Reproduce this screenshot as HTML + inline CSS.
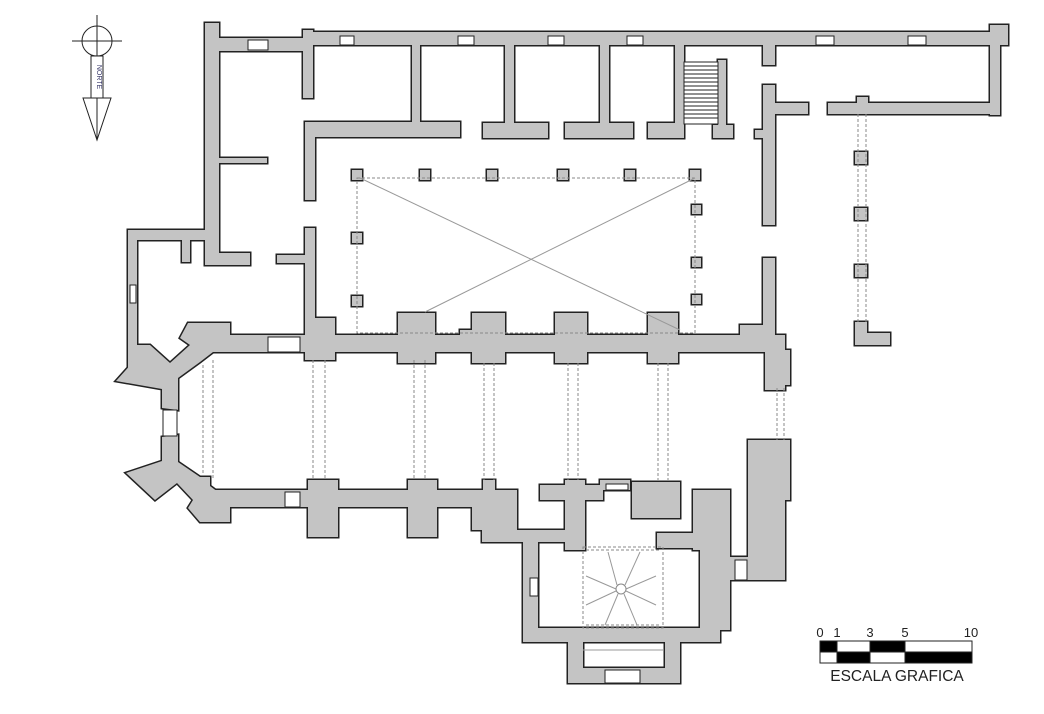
<!DOCTYPE html>
<html><head><meta charset="utf-8"><style>
html,body{margin:0;padding:0;background:#fff;}
svg{display:block;}
</style></head><body>
<svg width="1044" height="714" viewBox="0 0 1044 714" xmlns="http://www.w3.org/2000/svg">
<defs>
<g id="walls">
<rect x="205" y="23" width="14" height="242"/>
<rect x="205" y="253" width="45" height="12"/>
<rect x="128" y="230" width="80" height="10"/>
<rect x="128" y="230" width="9" height="140"/>
<rect x="182" y="236" width="8" height="26"/>
<rect x="218" y="38" width="90" height="13"/>
<rect x="303" y="32" width="705" height="13"/>
<rect x="990" y="25" width="18" height="20"/>
<rect x="990" y="30" width="10" height="85"/>
<rect x="303" y="30" width="10" height="68"/>
<rect x="305" y="122" width="155" height="15"/>
<rect x="305" y="122" width="10" height="78"/>
<rect x="218" y="158" width="49" height="5"/>
<rect x="412" y="45" width="8" height="80"/>
<rect x="505" y="45" width="9" height="80"/>
<rect x="600" y="45" width="9" height="80"/>
<rect x="675" y="45" width="9" height="80"/>
<rect x="483" y="123" width="65" height="15"/>
<rect x="565" y="123" width="68" height="15"/>
<rect x="648" y="123" width="36" height="15"/>
<rect x="718" y="60" width="8" height="78"/>
<rect x="713" y="125" width="20" height="13"/>
<rect x="763" y="45" width="12" height="20"/>
<rect x="763" y="85" width="12" height="140"/>
<rect x="755" y="130" width="10" height="8"/>
<rect x="775" y="103" width="33" height="11"/>
<rect x="828" y="103" width="172" height="11"/>
<rect x="857" y="97" width="11" height="8"/>
<rect x="763" y="258" width="12" height="90"/>
<rect x="740" y="325" width="35" height="23"/>
<rect x="855" y="152" width="12" height="12"/>
<rect x="855" y="208" width="12" height="12"/>
<rect x="855" y="265" width="12" height="12"/>
<rect x="855" y="322" width="12" height="23"/>
<rect x="855" y="333" width="35" height="12"/>
<rect x="305" y="228" width="10" height="130"/>
<rect x="277" y="255" width="30" height="8"/>
<rect x="352" y="170" width="10" height="10"/>
<rect x="420" y="170" width="10" height="10"/>
<rect x="487" y="170" width="10" height="10"/>
<rect x="558" y="170" width="10" height="10"/>
<rect x="625" y="170" width="10" height="10"/>
<rect x="690" y="170" width="10" height="10"/>
<rect x="352" y="233" width="10" height="10"/>
<rect x="352" y="296" width="10" height="10"/>
<rect x="692" y="205" width="9" height="9"/>
<rect x="692" y="258" width="9" height="9"/>
<rect x="692" y="295" width="9" height="9"/>
<rect x="213" y="335" width="562" height="17"/>
<rect x="305" y="318" width="30" height="42"/>
<rect x="398" y="313" width="37" height="50"/>
<rect x="460" y="330" width="45" height="22"/>
<rect x="472" y="313" width="33" height="50"/>
<rect x="555" y="313" width="32" height="50"/>
<rect x="648" y="313" width="30" height="50"/>
<rect x="765" y="335" width="20" height="55"/>
<rect x="775" y="350" width="15" height="35"/>
<polygon points="128,345 150,345 170,363 190,345 180,338 188,323 230,323 230,337 265,337 275,352 213,352 200,362 178,378 178,410 162,408 162,389 116,381 133,362 128,360"/>
<polygon points="162,437 178,435 178,462 200,477 210,477 210,486 218,492 285,492 285,507 230,507 230,522 200,522 188,508 193,500 177,483 155,500 126,473 162,461"/>
<rect x="210" y="490" width="285" height="17"/>
<rect x="308" y="480" width="30" height="57"/>
<rect x="408" y="480" width="29" height="57"/>
<polygon points="437,490 470,495 485,505 485,490 437,490"/>
<rect x="472" y="490" width="45" height="40"/>
<rect x="483" y="480" width="12" height="12"/>
<rect x="482" y="500" width="20" height="42"/>
<rect x="482" y="530" width="90" height="12"/>
<rect x="540" y="485" width="63" height="15"/>
<rect x="565" y="480" width="20" height="70"/>
<rect x="632" y="482" width="48" height="36"/>
<rect x="600" y="480" width="30" height="10"/>
<rect x="523" y="542" width="15" height="100"/>
<rect x="523" y="628" width="197" height="14"/>
<rect x="700" y="547" width="20" height="95"/>
<rect x="657" y="533" width="45" height="15"/>
<rect x="568" y="628" width="15" height="55"/>
<rect x="665" y="628" width="15" height="55"/>
<rect x="568" y="668" width="112" height="15"/>
<rect x="693" y="490" width="37" height="60"/>
<rect x="710" y="490" width="20" height="140"/>
<rect x="748" y="440" width="37" height="140"/>
<rect x="765" y="440" width="25" height="60"/>
<rect x="718" y="557" width="48" height="23"/>
</g>
</defs>
<g fill="#222" stroke="#222" stroke-width="3"><use href="#walls"/></g>
<g fill="#c4c4c4" stroke="none"><use href="#walls"/></g>

<g fill="#fff" stroke="#222" stroke-width="1">
<rect x="248" y="40" width="20" height="10"/>
<rect x="340" y="36" width="14" height="9"/>
<rect x="458" y="36" width="16" height="9"/>
<rect x="548" y="36" width="16" height="9"/>
<rect x="627" y="36" width="16" height="9"/>
<rect x="816" y="36" width="18" height="9"/>
<rect x="908" y="36" width="18" height="9"/>
<rect x="130" y="285" width="6" height="18"/>
<rect x="163" y="410" width="14" height="26"/>
<rect x="285" y="492" width="15" height="15"/>
<rect x="268" y="337" width="32" height="15"/>
<rect x="735" y="560" width="12" height="20"/>
<rect x="530" y="578" width="8" height="18"/>
<rect x="605" y="670" width="35" height="13"/>
<rect x="606" y="484" width="22" height="6"/>
</g>

<rect x="684" y="62" width="34" height="62" fill="#fff" stroke="#222"/>
<g stroke="#222" stroke-width="1">
<line x1="684" y1="66" x2="718" y2="66"/><line x1="684" y1="70" x2="718" y2="70"/><line x1="684" y1="74" x2="718" y2="74"/><line x1="684" y1="78" x2="718" y2="78"/><line x1="684" y1="82" x2="718" y2="82"/><line x1="684" y1="86" x2="718" y2="86"/><line x1="684" y1="90" x2="718" y2="90"/><line x1="684" y1="94" x2="718" y2="94"/><line x1="684" y1="98" x2="718" y2="98"/><line x1="684" y1="102" x2="718" y2="102"/><line x1="684" y1="106" x2="718" y2="106"/><line x1="684" y1="110" x2="718" y2="110"/><line x1="684" y1="114" x2="718" y2="114"/><line x1="684" y1="118" x2="718" y2="118"/>
</g>

<g stroke="#888" stroke-width="1" stroke-dasharray="3,2" fill="none">
<rect x="357" y="178" width="338" height="155"/>
<line x1="858" y1="114" x2="858" y2="322"/><line x1="866" y1="114" x2="866" y2="322"/>
<line x1="203" y1="365" x2="203" y2="475"/><line x1="213" y1="360" x2="213" y2="480"/>
<line x1="313" y1="360" x2="313" y2="480"/><line x1="325" y1="360" x2="325" y2="480"/>
<line x1="414" y1="360" x2="414" y2="480"/><line x1="425" y1="360" x2="425" y2="480"/>
<line x1="484" y1="363" x2="484" y2="480"/><line x1="494" y1="363" x2="494" y2="480"/>
<line x1="568" y1="363" x2="568" y2="480"/><line x1="578" y1="363" x2="578" y2="480"/>
<line x1="658" y1="363" x2="658" y2="480"/><line x1="668" y1="363" x2="668" y2="480"/>
<line x1="777" y1="388" x2="777" y2="440"/><line x1="784" y1="388" x2="784" y2="440"/>
<rect x="583" y="547" width="80" height="81"/>
<line x1="586" y1="550" x2="660" y2="550"/><line x1="586" y1="625" x2="660" y2="625"/>
</g>
<g stroke="#999" stroke-width="1">
<line x1="360" y1="178" x2="680" y2="330"/>
<line x1="695" y1="178" x2="425" y2="312"/>
<line x1="583" y1="650" x2="663" y2="650"/>
<line x1="617" y1="585" x2="608" y2="552"/><line x1="625" y1="585" x2="640" y2="552"/>
<line x1="616" y1="589" x2="586" y2="576"/><line x1="626" y1="589" x2="656" y2="576"/>
<line x1="616" y1="591" x2="586" y2="605"/><line x1="626" y1="591" x2="656" y2="605"/>
<line x1="618" y1="594" x2="605" y2="625"/><line x1="624" y1="594" x2="637" y2="625"/>
</g>
<circle cx="621" cy="589" r="5" fill="#fff" stroke="#888"/>

<g stroke="#222" stroke-width="1" fill="none">
<circle cx="97" cy="41" r="15"/>
<line x1="72" y1="41" x2="122" y2="41"/>
<line x1="97" y1="15" x2="97" y2="140"/>
<rect x="91" y="56" width="12" height="42" fill="#fff"/>
<polygon points="83,98 111,98 97,140" fill="#fff"/>
<line x1="97" y1="98" x2="97" y2="140"/>
</g>
<text x="97" y="77" font-family="Liberation Sans, sans-serif" font-size="7" fill="#336" text-anchor="middle" transform="rotate(90 97 77)">NORTE</text>

<g font-family="Liberation Sans, sans-serif" fill="#222">
<text x="820" y="637" font-size="13" text-anchor="middle">0</text>
<text x="837" y="637" font-size="13" text-anchor="middle">1</text>
<text x="870" y="637" font-size="13" text-anchor="middle">3</text>
<text x="905" y="637" font-size="13" text-anchor="middle">5</text>
<text x="971" y="637" font-size="13" text-anchor="middle">10</text>
<text x="897" y="681" font-size="15.5" text-anchor="middle">ESCALA GRAFICA</text>
</g>
<g stroke="#222" stroke-width="1">
<rect x="820" y="641" width="152" height="22" fill="#fff"/>
<rect x="820" y="641" width="17" height="11" fill="#000"/>
<rect x="870" y="641" width="35" height="11" fill="#000"/>
<rect x="837" y="652" width="33" height="11" fill="#000"/>
<rect x="905" y="652" width="67" height="11" fill="#000"/>
</g>
</svg>
</body></html>
